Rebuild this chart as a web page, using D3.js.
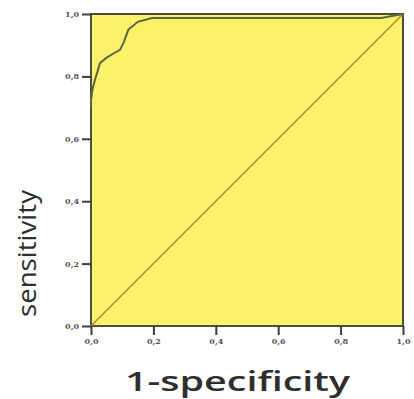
<!DOCTYPE html>
<html>
<head>
<meta charset="utf-8">
<script src="https://cdn.jsdelivr.net/npm/d3@7"></script>
<style>
  body { margin: 0; background: #fff; }
</style>
</head>
<body>
<div id="chart"></div>
<script>
// ROC curve points (1-specificity, sensitivity)
var fpr = [0.0, 0.0, 0.005, 0.013, 0.029, 0.05, 0.075, 0.093, 0.105, 0.12, 0.15, 0.195, 0.3, 0.5, 0.7, 0.93, 1.0];
var tpr = [0.70, 0.724, 0.76, 0.79, 0.843, 0.86, 0.875, 0.885, 0.91, 0.95, 0.975, 0.987, 0.987, 0.987, 0.987, 0.987, 1.0];
var tickVals = [0, 0.2, 0.4, 0.6, 0.8, 1.0];
var tickLabels = ["0,0", "0,2", "0,4", "0,6", "0,8", "1,0"];

var margin = {top: 14, right: 11, bottom: 73, left: 91},
    width = 414 - margin.left - margin.right,
    height = 399 - margin.top - margin.bottom;

var x = d3.scaleLinear().domain([0, 1]).range([0, width]);
var y = d3.scaleLinear().domain([0, 1]).range([height, 0]);

var svg = d3.select("#chart").append("svg")
    .attr("width", 414)
    .attr("height", 399)
  .append("g")
    .attr("transform", "translate(" + margin.left + "," + margin.top + ")");

// plot background
svg.append("rect")
    .attr("width", width)
    .attr("height", height)
    .attr("fill", "#fbf26c")
    .attr("stroke", "#4e4e3c")
    .attr("stroke-width", 2);

// diagonal reference line
svg.append("line")
    .attr("x1", x(0)).attr("y1", y(0))
    .attr("x2", x(1)).attr("y2", y(1))
    .attr("stroke", "#c07e2e")
    .attr("stroke-width", 1.5);

// ROC curve
var pts = fpr.map(function(d, i) { return [d, tpr[i]]; });
svg.append("path")
    .datum(pts)
    .attr("fill", "none")
    .attr("stroke", "#5c6444")
    .attr("stroke-width", 2)
    .attr("d", d3.line()
        .x(function(d) { return x(d[0]); })
        .y(function(d) { return y(d[1]); }));

// axes
var xAxis = svg.append("g")
    .attr("transform", "translate(0," + height + ")")
    .call(d3.axisBottom(x).tickValues(tickVals).tickSize(9).tickSizeOuter(0)
        .tickFormat(function(d, i) { return tickLabels[i]; }));
var yAxis = svg.append("g")
    .call(d3.axisLeft(y).tickValues(tickVals).tickSize(9).tickSizeOuter(0)
        .tickFormat(function(d, i) { return tickLabels[i]; }));

[xAxis, yAxis].forEach(function(a) {
  a.select(".domain").remove();
  a.selectAll("line").attr("stroke", "#3c3c3c").attr("stroke-width", 2);
  a.selectAll("text")
    .attr("fill", "#555")
    .style("font-family", "'DejaVu Serif', serif")
    .style("font-weight", "bold")
    .style("font-size", "8px");
});

// axis titles
svg.append("text")
    .attr("x", 125 - margin.left)
    .attr("y", 391 - margin.top)
    .attr("textLength", 225)
    .attr("lengthAdjust", "spacingAndGlyphs")
    .style("font-family", "'Open Sans', sans-serif")
    .style("font-weight", "600")
    .style("font-size", "27px")
    .attr("fill", "#2e2e2e")
    .text("1-specificity");

svg.append("text")
    .attr("transform", "translate(" + (36 - margin.left) + "," + (317 - margin.top) + ") rotate(-90)")
    .attr("textLength", 127)
    .attr("lengthAdjust", "spacingAndGlyphs")
    .style("font-family", "'Open Sans', sans-serif")
    .style("font-size", "26px")
    .attr("fill", "#2e2e2e")
    .text("sensitivity");
</script>
</body>
</html>
